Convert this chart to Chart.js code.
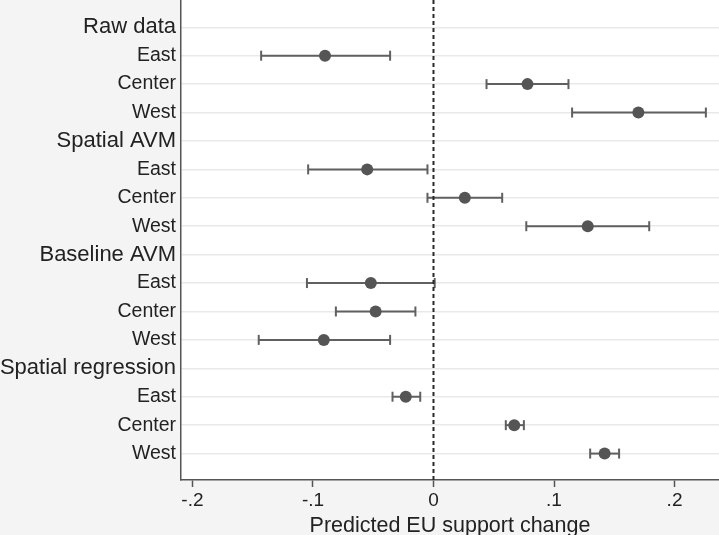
<!DOCTYPE html>
<html>
<head>
<meta charset="utf-8">
<script src="https://cdn.jsdelivr.net/npm/chart.js@4"></script>
<style>
  body { margin: 0; background: #f4f4f4; }
  #wrap { width: 719px; height: 535px; position: relative; }
</style>
</head>
<body>
<div id="wrap"><canvas id="effectsChart"></canvas></div>
<script>
// rows from top to bottom
const rowLabels = ['Raw data', 'East', 'Center', 'West',
  'Spatial AVM', 'East', 'Center', 'West',
  'Baseline AVM', 'East', 'Center', 'West',
  'Spatial regression', 'East', 'Center', 'West'];
const headerRows = [1, 5, 9, 13];

const estimates = [null, -0.090, 0.078, 0.170, null, -0.055, 0.026, 0.128,
  null, -0.052, -0.048, -0.091, null, -0.023, 0.067, 0.142];
const lower = [null, -0.143, 0.044, 0.115, null, -0.104, -0.005, 0.077,
  null, -0.105, -0.081, -0.145, null, -0.034, 0.060, 0.130];
const upper = [null, -0.036, 0.112, 0.226, null, -0.005, 0.057, 0.179,
  null, 0.001, -0.015, -0.036, null, -0.011, 0.075, 0.154];

const xTicks = [-0.2, -0.1, 0, 0.1, 0.2];

const yMin = 0.04, yMax = 16.93;
const xMin = -0.2095, xMax = 0.2369;

var datasets = [];

// points
datasets.push({
  type: 'scatter',
  data: estimates.map((v, i) => v === null ? null : { x: v, y: i + 1 }).filter(p => p),
  pointRadius: 6,
  pointBackgroundColor: '#555555',
  pointBorderWidth: 0,
  order: 0
});

// error bars, one small line per row with vertical caps
estimates.forEach((v, i) => {
  if (v === null) return;
  datasets.push({
    type: 'line',
    data: [{ x: lower[i], y: i + 1 }, { x: upper[i], y: i + 1 }],
    borderColor: '#606060',
    borderWidth: 2,
    pointStyle: 'line',
    rotation: 90,
    pointRadius: 5,
    pointBorderColor: '#606060',
    pointBorderWidth: 2,
    order: 2
  });
});

// dashed reference line at zero
datasets.push({
  type: 'line',
  data: [{ x: 0, y: yMin }, { x: 0, y: yMax }],
  borderColor: '#2a2a2a',
  borderWidth: 2,
  borderDash: [4, 3],
  pointRadius: 0,
  order: 1
});

const plotBg = {
  id: 'plotBg',
  beforeDraw(chart) {
    const a = chart.chartArea, ctx = chart.ctx;
    ctx.save();
    ctx.fillStyle = '#ffffff';
    ctx.fillRect(a.left, a.top, a.right - a.left, a.bottom - a.top);
    ctx.restore();
  }
};

Chart.defaults.font.family = '"Liberation Sans", Arial, sans-serif';
Chart.defaults.color = '#222';

new Chart(document.getElementById('effectsChart'), {
  type: 'scatter',
  data: { datasets: datasets },
  plugins: [plotBg],
  options: {
    responsive: true,
    maintainAspectRatio: false,
    animation: false,
    layout: { padding: 0, autoPadding: false },
    plugins: { legend: { display: false }, tooltip: { enabled: false } },
    scales: {
      x: {
        type: 'linear',
        min: xMin,
        max: xMax,
        afterFit: s => { s.height = 55; s.paddingLeft = 0; s.paddingRight = 0; },
        afterBuildTicks: s => { s.ticks = xTicks.map(v => ({ value: v })); },
        ticks: {
          padding: 2,
          font: { size: 19 },
          color: '#222',
          callback: v => v === 0 ? '0' : (Math.round(v * 10) / 10).toFixed(1).replace('0.', '.')
        },
        grid: {
          drawOnChartArea: false,
          drawTicks: true,
          tickLength: 7,
          tickColor: '#555',
          tickWidth: 1.5
        },
        border: { display: true, color: '#555', width: 1.5 },
        title: {
          display: true,
          text: 'Predicted EU support change',
          font: { size: 21.5, lineHeight: 0.8 },
          color: '#222',
          padding: { top: 0, bottom: 0 }
        }
      },
      y: {
        type: 'linear',
        reverse: true,
        min: yMin,
        max: yMax,
        afterFit: s => { s.width = 181; s.paddingTop = 0; s.paddingBottom = 0; },
        ticks: {
          stepSize: 1,
          includeBounds: false,
          autoSkip: false,
          padding: 5,
          color: '#222',
          font: ctx => ({ size: headerRows.includes(ctx.tick && ctx.tick.value) ? 22 : 19.5 }),
          callback: v => rowLabels[v - 1]
        },
        grid: {
          drawTicks: false,
          color: '#e9e9e9',
          lineWidth: 1.5
        },
        border: { display: true, color: '#555', width: 1.5 }
      }
    }
  }
});
</script>
</body>
</html>
